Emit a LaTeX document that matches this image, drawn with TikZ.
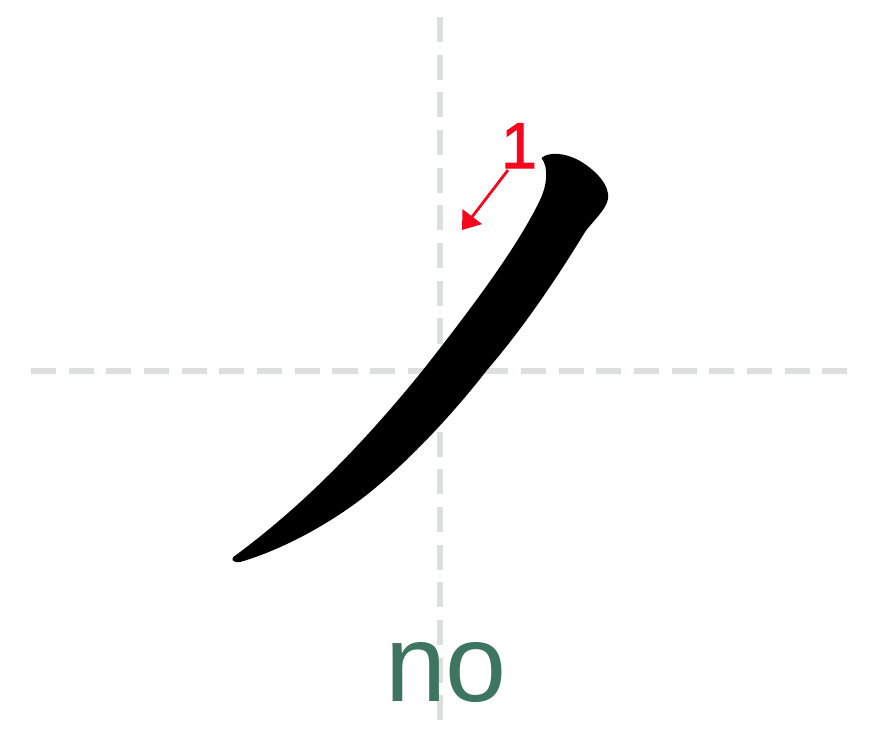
\documentclass[tikz,border=0pt]{standalone}
\usepackage{fontspec}
\setmainfont{Liberation Sans}
\newfontfamily\numfont[FakeBold=1.6]{Liberation Sans}
\usepackage{xcolor}
\usepackage{tikz}
\usetikzlibrary{arrows.meta}
\definecolor{GUIDEgray}{HTML}{DCDFDD}
\definecolor{ORDERred}{HTML}{F5081E}
\definecolor{KANAgreen}{HTML}{3D7560}

\begin{document}
\begin{tikzpicture}[x=0.025cm, y=-0.025cm]
      \useasboundingbox (0,0) rectangle (880,739);
      % guide cross
      \draw[GUIDEgray, line width=3.6pt, dash pattern=on 17.8pt off 9pt]
        (440,17) -- (440,723);
      \draw[GUIDEgray, line width=3.6pt, dash pattern=on 17.8pt off 9pt]
        (31,371) -- (848,371);
      % the stroke
      \fill[black] (541.5,158) .. controls (548,152) and (564,152) .. (580,161)
        .. controls (597,171) and (610,186) .. (608,199)
        .. controls (606,210) and (592,222) .. (585,232)
        .. controls (571,255) and (532,318) .. (487,370)
        .. controls (450,418) and (400,470) .. (360,500)
        .. controls (320,530) and (275,552) .. (240,562)
        .. controls (233,563) and (229,559) .. (236,555)
        .. controls (290,515) and (350,460) .. (423,370)
        .. controls (466,315) and (516,250) .. (540,200)
        .. controls (547,185) and (549,168) .. cycle;
      % stroke order
      \node[font=\numfont\fontsize{46}{46}\selectfont, ORDERred, anchor=base, inner sep=0pt]
        (num) at (519,168) {1};
      \coordinate (arrstart) at (508,170);
      \coordinate (arrend) at (462,230);
      \draw[ORDERred, line width=2pt, -{Triangle[length=12pt,width=17pt]}]
        (arrstart) -- (arrend);
      % reading
      \node[font=\fontsize{78}{78}\selectfont, KANAgreen, anchor=base, inner sep=0pt]
        (kana) at (446,701.7) {no};
    \end{tikzpicture}
\end{document}
